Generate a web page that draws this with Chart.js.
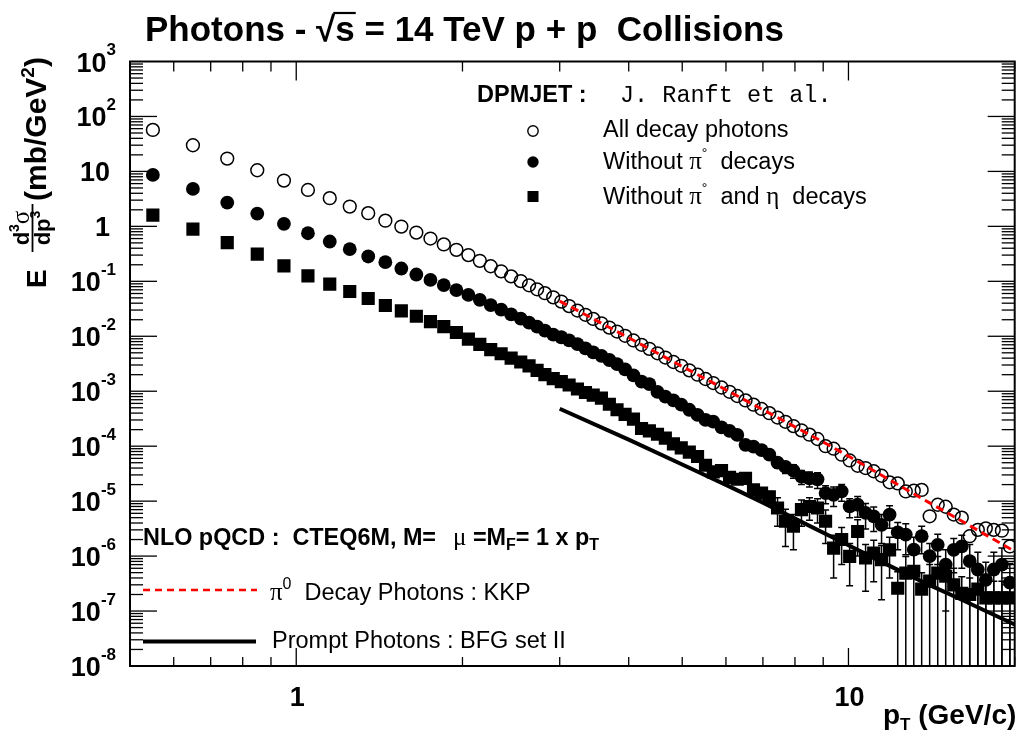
<!DOCTYPE html>
<html><head><meta charset="utf-8">
<script src="https://cdn.jsdelivr.net/npm/chart.js@4.4.0/dist/chart.umd.min.js"></script>
<style>html,body{margin:0;padding:0;background:#fff;}canvas{display:block;}</style>
</head><body>
<canvas id="c" width="1024" height="735"></canvas>
<script>
// ---------- data ----------
const ptBins = [0.55,0.65,0.75,0.85,0.95,1.05,1.15,1.25,1.35,1.45,1.55,1.65,1.75,1.85,1.95,2.05,2.15,2.25,2.35,2.45,
 2.55,2.64,2.73,2.82,2.92,3.02,3.12,3.23,3.34,3.45,3.57,3.69,3.81,3.94,4.08,4.22,4.36,4.51,4.66,4.82,4.98,5.15,5.33,5.51,5.69,5.89,6.09,6.29,6.51,6.73,6.96,7.19,7.44,7.69,7.95,8.22,8.50,8.79,9.09,9.40,9.72,10.05,10.39,10.74,11.11,11.48,11.87,12.28,12.70,13.13,13.57,14.03,14.51,15.00,15.51,16.04,16.58,17.15,17.73,18.33,18.96,19.60];

const allDecay = [56.9,29.9,17.1,10.5,6.8,4.6,3.26,2.29,1.74,1.27,0.99,0.77,0.60,0.47,0.374,0.300,0.236,0.188,0.152,0.123,
 0.101,0.0847,0.0716,0.0609,0.0511,0.0428,0.0354,0.0294,0.0246,0.0207,0.0172,0.0144,0.0122,0.0102,0.0084,0.0070,0.0059,0.0049,0.0041,0.0034,0.0029,0.0024,0.0020,0.00167,0.00141,0.00117,0.000976,0.000819,0.000681,0.00057,0.000476,0.000399,0.000332,0.000278,0.000232,0.000194,0.000162,0.000135,1.0e-4,9.0e-5,7.0e-5,5.5e-5,4.4e-5,4.0e-5,3.5e-5,2.9e-5,2.2e-5,2.1e-5,1.5e-5,1.55e-5,1.6e-5,5.3e-6,8.6e-6,7.9e-6,5.7e-6,5.0e-6,2.3e-6,3.0e-6,3.2e-6,3.0e-6,2.9e-6,1.5e-6];

const noPi0 = [8.63,4.8,2.71,1.71,1.11,0.75,0.53,0.385,0.283,0.223,0.171,0.133,0.106,0.0853,0.069,0.0565,0.046,0.0370,0.0305,0.0250,
 0.0210,0.0177,0.0150,0.0127,0.0107,0.0096,0.0084,0.0072,0.0060,0.0051,0.0044,0.0037,0.0031,0.0025,0.00195,0.0015,0.00135,0.00097,0.00080,0.00068,0.00057,0.00046,0.00037,0.00030,0.00028,0.00022,0.00019,0.00016,0.000106,0.000098,0.000085,0.000070,5.0e-5,4.2e-5,3.6e-5,2.8e-5,2.6e-5,2.5e-5,1.4e-5,1.3e-5,1.5e-5,8.0e-6,8.6e-6,6.1e-6,5.3e-6,3.7e-6,5.7e-6,2.7e-6,2.46e-6,1.31e-6,2.3e-6,1.0e-6,1.6e-6,7.0e-7,1.3e-6,1.5e-6,8.1e-7,5.7e-7,3.7e-7,5.7e-7,7.0e-7,3.3e-7];

const noPi0Err = [null,null,null,null,null,null,null,null,null,null,null,null,null,null,null,null,null,null,null,null,
 null,null,null,null,null,null,null,null,null,null,null,null,null,null,null,null,null,null,null,null,null,null,null,null,null,null,null,null,null,null,null,null,
 1.0e-5,1.0e-5,1.0e-5,8e-6,8e-6,8e-6,5e-6,5e-6,5e-6,3e-6,3.5e-6,3e-6,2.5e-6,2e-6,2.5e-6,1.4e-6,1.4e-6,9e-7,1.2e-6,7e-7,9e-7,6e-7,8e-7,9e-7,8.1e-7,6e-7,4e-7,6e-7,7e-7,4e-7];

const noPi0Eta = [1.6,0.89,0.507,0.312,0.191,0.126,0.0889,0.0653,0.0487,0.0363,0.0290,0.0231,0.0185,0.0150,0.0117,0.0089,0.0071,0.0057,0.0048,0.0040,
 0.0034,0.0029,0.0024,0.0020,0.0017,0.0015,0.0013,0.0011,0.00095,0.00085,0.00075,0.00058,0.00046,0.00038,0.00031,0.00021,0.00019,0.000165,0.00014,0.00011,9.3e-5,7.8e-5,6.5e-5,4.5e-5,3.4e-5,3.6e-5,2.7e-5,2.5e-5,2.6e-5,1.6e-5,1.4e-5,1.2e-5,7.5e-6,4.3e-6,3.5e-6,7.0e-6,8.0e-6,7.5e-6,4.3e-6,1.4e-6,2.0e-6,9.9e-7,2.8e-6,9.3e-7,1.14e-6,8.6e-7,1.3e-6,2.6e-7,4.9e-7,5.3e-7,2.5e-7,3.5e-7,4.9e-7,4.3e-7,3.0e-7,2.1e-7,2.0e-7,2.5e-7,1.74e-7,1.74e-7,1.74e-7,1.74e-7];

const noPi0EtaErr = [null,null,null,null,null,null,null,null,null,null,null,null,null,null,null,null,null,null,null,null,
 null,null,null,null,null,null,null,null,null,null,null,null,null,null,null,null,null,null,null,null,null,null,null,null,null,null,null,null,null,null,null,
 3e-6,4e-6,2.8e-6,2.2e-6,3.5e-6,3.5e-6,3.5e-6,2.6e-6,1.0e-6,1.3e-6,7e-7,1.8e-6,7e-7,8e-7,7e-7,9e-7,2.6e-7,4.9e-7,5.3e-7,2.5e-7,3.5e-7,4.9e-7,4.3e-7,3.0e-7,2.1e-7,2.0e-7,2.5e-7,1.74e-7,1.74e-7,1.74e-7,1.74e-7];

const kkpPt  = [3,4,5,6,7,8,9,10,12,14,16,18,20];
const kkpVal = [0.0437,9.4e-3,2.82e-3,1.06e-3,4.62e-4,2.25e-4,1.19e-4,6.6e-5,2.29e-5,9.4e-6,4.4e-6,2.23e-6,1.22e-6];
const bfgPt  = [3,4,5,6,7,8,10,12,14,16,18,20];
const bfgVal = [4.8e-4,1.32e-4,4.65e-5,1.98e-5,9.4e-6,4.8e-6,1.57e-6,6.3e-7,3.0e-7,1.62e-7,9.3e-8,5.7e-8];

const yTickVals   = [1e3,1e2,10,1,1e-1,1e-2,1e-3,1e-4,1e-5,1e-6,1e-7,1e-8];
const yTickLabels = [["10","3"],["10","2"],["10",""],["1",""],["10","-1"],["10","-2"],["10","-3"],["10","-4"],["10","-5"],["10","-6"],["10","-7"],["10","-8"]];
const xTickVals   = [1,10];
const xTickLabels = ["1","10"];

// ---------- helpers ----------
const SANS = '"Liberation Sans", Arial, Helvetica, sans-serif';
const B = s => `bold ${s}px ${SANS}`;
const R = s => `${s}px ${SANS}`;
const G = s => `${s}px "Liberation Serif", "DejaVu Serif", serif`;
const M = s => `${s}px "Liberation Mono", "DejaVu Sans Mono", monospace`;
function seg(ctx, x, y, parts){ let cx=x; for(const p of parts){ ctx.font=p[1]; ctx.fillText(p[0], cx, y+(p[2]||0)); cx+=ctx.measureText(p[0]).width; } return cx; }
function segW(ctx, parts){ let w=0; for(const p of parts){ ctx.font=p[1]; w+=ctx.measureText(p[0]).width; } return w; }
function line(ctx,x1,y1,x2,y2){ ctx.beginPath(); ctx.moveTo(x1,y1); ctx.lineTo(x2,y2); ctx.stroke(); }
const pts = (xs, ys) => xs.map((x,i)=>({x:x, y:ys[i]}));

const decor = {
  id:'decor',
  beforeDatasetsDraw(chart){
    const ctx=chart.ctx, xs=chart.scales.x, ys=chart.scales.y, a=chart.chartArea;
    ctx.save();
    ctx.beginPath(); ctx.rect(a.left,a.top,a.right-a.left,a.bottom-a.top); ctx.clip();
    ctx.strokeStyle='#000'; ctx.lineWidth=1.5;
    [[noPi0,noPi0Err],[noPi0Eta,noPi0EtaErr]].forEach(([vals,errs])=>{
      ptBins.forEach((x,i)=>{
        const e=errs[i]; if(e==null) return;
        const px=xs.getPixelForValue(x);
        const hi=ys.getPixelForValue(vals[i]+e);
        const lo = (vals[i]-e)>1e-12 ? ys.getPixelForValue(vals[i]-e) : a.bottom+2;
        line(ctx,px,hi,px,lo);
        line(ctx,px-3.5,hi,px+3.5,hi);
        if(lo<a.bottom) line(ctx,px-3.5,lo,px+3.5,lo);
      });
    });
    ctx.restore();
  },
  afterDatasetsDraw(chart){
    const ctx=chart.ctx, xs=chart.scales.x, ys=chart.scales.y, a=chart.chartArea;
    ctx.save();
    ctx.strokeStyle='#000';
    ctx.lineWidth=1.3;
    for(let e=-8;e<=2;e++){
      for(let m=1;m<=9;m++){
        const v=m*Math.pow(10,e); const py=ys.getPixelForValue(v);
        const len = m===1?27:13;
        line(ctx,a.left,py,a.left+len,py); line(ctx,a.right,py,a.right-len,py);
      }
    }
    for(let e=-1;e<=1;e++){
      for(let m=1;m<=9;m++){
        const v=m*Math.pow(10,e); if(v<0.5||v>20) continue;
        const px=xs.getPixelForValue(v);
        const major = m===1;
        line(ctx,px,a.bottom,px,a.bottom-(major?18:9));
        line(ctx,px,a.top,px,a.top+(major?19:10));
      }
    }
    ctx.lineWidth=2;
    ctx.strokeRect(a.left,a.top,a.right-a.left,a.bottom-a.top);
    ctx.restore();
  },
  afterDraw(chart){
    const ctx=chart.ctx, xs=chart.scales.x, ys=chart.scales.y;
    ctx.save();
    ctx.fillStyle='#000'; ctx.strokeStyle='#000'; ctx.textBaseline='alphabetic';
    // y tick labels
    yTickVals.forEach((v,i)=>{
      const py=ys.getPixelForValue(v); const [b,ex]=yTickLabels[i];
      if(ex){
        const w=segW(ctx,[[b,B(27)],[ex,B(17)]]);
        seg(ctx,116-w,py+10,[[b,B(27)],[ex,B(17),-16.5]]);
      } else {
        ctx.font=B(27); ctx.textAlign='right'; ctx.fillText(b,110,py+10); ctx.textAlign='left';
      }
    });
    // x tick labels
    ctx.textAlign='center'; ctx.font=B(27);
    xTickVals.forEach((v,i)=>{ ctx.fillText(xTickLabels[i], xs.getPixelForValue(v)+1, 706); });
    ctx.textAlign='left';
    // x axis title
    seg(ctx,883,724,[["p",B(28)],["T",B(17),6],[" (GeV/c)",B(28)]]);
    // title
    let cx = seg(ctx,145,41,[["Photons - ",B(35)]]);
    ctx.font=B(35); ctx.fillText("\u221A",cx,41); const sx = cx+ctx.measureText("\u221A").width;
    ctx.fillText("s",sx,41); const sw=ctx.measureText("s").width;
    ctx.lineWidth=2.2; line(ctx,sx-2,13,sx+sw+1,13);
    seg(ctx,sx+sw,41,[[" = 14 TeV p + p  Collisions",B(35)]]);
    // y-axis title (rotated)
    ctx.save(); ctx.rotate(-Math.PI/2);
    seg(ctx,-288,46,[["E",B(28)]]);
    const numP=[["d",B(22)],["3",B(14),-10],["\u03C3",G(25)]];
    const denP=[["dp",B(22)],["3",B(14),-10]];
    const fc=-228;
    seg(ctx,fc-segW(ctx,numP)/2,29,numP);
    seg(ctx,fc-segW(ctx,denP)/2,50,denP);
    ctx.lineWidth=1.8; line(ctx,-252,32.5,-204,32.5);
    seg(ctx,-201,46,[["(mb/GeV",B(30)],["2",B(19),-12],[")",B(30)]]);
    ctx.restore();
    // DPMJET legend
    seg(ctx,477,102,[["DPMJET :",B(23.5)]]);
    seg(ctx,620,102,[["J. Ranft et al.",M(23.5)]]);
    ctx.lineWidth=1.4;
    ctx.beginPath(); ctx.arc(533,131,5.2,0,2*Math.PI); ctx.stroke();
    ctx.beginPath(); ctx.arc(533,162,5.7,0,2*Math.PI); ctx.fill();
    ctx.fillRect(527.5,191,11,11);
    seg(ctx,603,137,[["All decay photons",R(23.5)]]);
    seg(ctx,603,169,[["Without ",R(23.5)],["\u03C0",G(25)],["\u00B0",R(14),-11],["  decays",R(23.5)]]);
    seg(ctx,603,204,[["Without ",R(23.5)],["\u03C0",G(25)],["\u00B0",R(14),-11],["  and ",R(23.5)],["\u03B7",G(25)],["  decays",R(23.5)]]);
    // NLO legend
    seg(ctx,143,545,[["NLO pQCD :  CTEQ6M, M=",B(23.4)]]);
    seg(ctx,453,545,[["\u03BC",G(25)],[" =M",B(23.4)],["F",B(16),5],["= 1 x p",B(23.4)],["T",B(16),5]]);
    ctx.strokeStyle='#ff0000'; ctx.lineWidth=2.6; ctx.setLineDash([7,5]);
    line(ctx,143,590,257,590); ctx.setLineDash([]);
    ctx.strokeStyle='#000'; ctx.lineWidth=4;
    line(ctx,143,641.5,256,641.5);
    seg(ctx,270,600,[["\u03C0",G(25)],["0",R(16),-11],["  Decay Photons : KKP",R(23.5)]]);
    seg(ctx,272,648,[["Prompt Photons : BFG set II",R(23.5)]]);
    ctx.restore();
  }
};

new Chart(document.getElementById('c').getContext('2d'), {
  type:'scatter',
  data:{ datasets:[
    {label:'KKP', data:pts(kkpPt,kkpVal), showLine:true, borderColor:'#ff0000', borderWidth:3, borderDash:[8,5], pointRadius:0, fill:false},
    {label:'BFG', data:pts(bfgPt,bfgVal), showLine:true, borderColor:'#000', borderWidth:4, pointRadius:0, fill:false},
    {label:'All decay photons', data:pts(ptBins,allDecay), pointStyle:'circle', pointRadius:6.4, pointBorderWidth:1.5, pointBorderColor:'#000', pointBackgroundColor:'rgba(0,0,0,0)', showLine:false},
    {label:'Without pi0', data:pts(ptBins,noPi0), pointStyle:'circle', pointRadius:6.9, pointBorderWidth:0, pointBackgroundColor:'#000', showLine:false},
    {label:'Without pi0 and eta', data:pts(ptBins,noPi0Eta), pointStyle:'rect', pointRadius:9.3, pointBorderWidth:0, pointBackgroundColor:'#000', showLine:false}
  ]},
  options:{
    responsive:false, animation:false, devicePixelRatio:1, events:[],
    layout:{padding:{left:130, right:1.3, top:61.5, bottom:69}},
    plugins:{legend:{display:false}, tooltip:{enabled:false}},
    scales:{
      x:{type:'logarithmic', min:0.5, max:20, display:false},
      y:{type:'logarithmic', min:1e-8, max:1e3, display:false}
    }
  },
  plugins:[decor]
});
</script>
</body></html>
